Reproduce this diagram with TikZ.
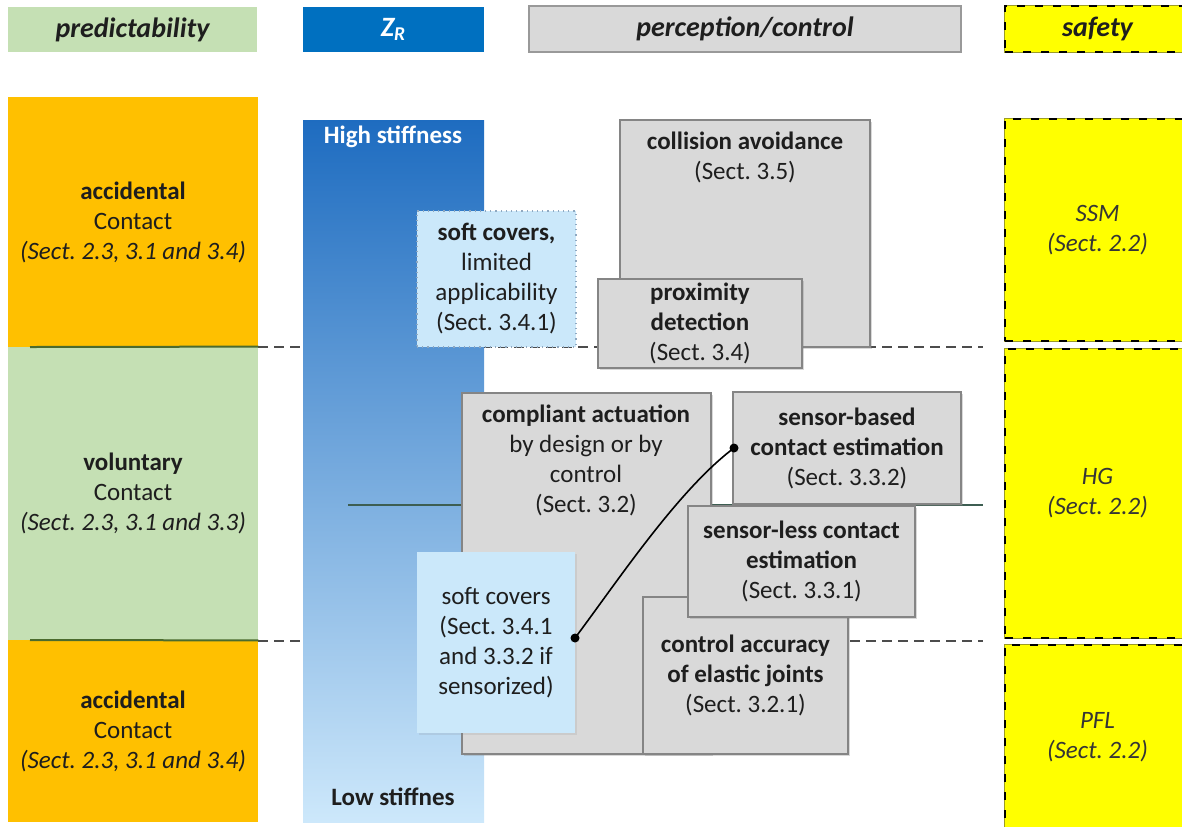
\documentclass[tikz,border=0pt]{standalone}
\usepackage{fontspec}
\setmainfont{Carlito}
\usetikzlibrary{positioning,fit,shadows}
\frenchspacing

\definecolor{predgreen}{HTML}{C5E0B4}
\definecolor{accorange}{HTML}{FFC000}
\definecolor{zrblue}{HTML}{0070C0}
\definecolor{zrtop}{HTML}{1E6CC0}
\definecolor{zrmid}{HTML}{6FA2DB}
\definecolor{zrbot}{HTML}{CDE8FB}
\definecolor{boxgray}{HTML}{D9D9D9}
\definecolor{boxline}{HTML}{858585}
\definecolor{coverblue}{HTML}{CBE8FA}
\definecolor{coverline}{HTML}{8FA8C0}
\definecolor{safeyellow}{HTML}{FFFF00}
\definecolor{safeolive}{HTML}{9C9C24}
\definecolor{inkgray}{HTML}{1E1E1E}
\definecolor{sepgreen}{HTML}{4B6B2E}
\definecolor{midline}{HTML}{3D5E52}

\newcommand{\bodyfont}{\fontsize{12.5}{15}\selectfont}
\newcommand{\headfont}{\fontsize{14}{16}\selectfont}

\begin{document}
\begin{tikzpicture}[
  x=0.5pt, y=-0.5pt,
  every node/.style={font=\bodyfont, text=inkgray},
  head/.style={inner sep=0pt, font=\headfont\bfseries\itshape},
  band/.style={inner sep=0pt},
  gbox/.style={draw=boxline, fill=boxgray, line width=0.7pt, inner sep=0pt,
               drop shadow={shadow xshift=1.2pt, shadow yshift=-1.2pt,
               opacity=0.3}},
  cover/.style={fill=coverblue, inner sep=0pt},
  safe/.style={fill=safeyellow, draw=black, line width=1.1pt,
               dash pattern=on 4pt off 5pt,
               preaction={draw=safeolive, line width=1.1pt, solid},
               inner sep=0pt},
  txt/.style={inner sep=0pt, align=center},
  safetxt/.style={txt, font=\bodyfont\itshape, text=inkgray!90},
  divide/.style={line width=1pt, black!70, dash pattern=on 5pt off 3pt},
  dot/.style={circle, fill=black, inner sep=0pt, minimum size=4.5pt},
]
\useasboundingbox (0,0) rectangle (1182,826);

% column headers
\node[band, fill=predgreen, fit={(8,7) (257,52)}] (h-pred) {};
\node[band, fill=zrblue, fit={(303,7) (484,52)}] (h-zr) {};
\node[band, fill=boxgray, draw=black!40, line width=0.6pt, fit={(529,6) (961,52)}] (h-pc) {};
\node[safe, fit={(1005,6) (1190,52)}] (h-safe) {};
\node[head] at (h-pred.center) {predictability};
\node[head, text=white] at (h-zr.center) {Z\textsubscript{R}};
\node[head] at (h-pc.center) {perception/control};
\node[head] at (h-safe.center) {safety};

% dashed dividers (behind everything)
\draw[divide] (258,347) -- (983,347);
\draw[divide] (258,641) -- (983,641);

% predictability column
\node[band, fill=accorange, fit={(8,97) (258,347)}] (acc-up) {};
\node[band, fill=predgreen, fit={(8,347) (258,640)}] (vol) {};
\node[band, fill=accorange, fit={(8,640) (258,822)}] (acc-lo) {};
\node[txt] at (acc-up.center) {\textbf{accidental}\\Contact\\\textit{(Sect. 2.3, 3.1 and 3.4)}};
\node[txt] at (vol.center) {\textbf{voluntary}\\Contact\\\textit{(Sect. 2.3, 3.1 and 3.3)}};
\node[txt] at (acc-lo.center) {\textbf{accidental}\\Contact\\\textit{(Sect. 2.3, 3.1 and 3.4)}};
\draw[sepgreen, line width=1pt] (30,347) -- (vol.north east);
\draw[sepgreen, line width=1pt] (30,640) -- (vol.south east);

% Z_R stiffness bar
\node[inner sep=0pt, top color=zrtop, middle color=zrmid, bottom color=zrbot,
      fit={(303,120) (484,822)}] (zr) {};
\node[txt, text=white, font=\bodyfont\bfseries] (zr-hi) at (393,137) {High stiffness};
\node[txt, font=\bodyfont\bfseries] (zr-lo) at (393,797) {Low stiffnes};

\draw[midline, line width=0.9pt] (348,505) -- (983,505);

% perception/control boxes
\node[gbox, fit={(620,120) (870,347)}] (coll) {};
\node[txt] at (745,157) {\textbf{collision avoidance}\\(Sect. 3.5)};
\node[gbox, fit={(598,279) (802,368)}] (prox) {};
\node[txt] at (prox.center) {\textbf{proximity}\\\textbf{detection}\\(Sect. 3.4)};
\node[cover, draw=coverline, dotted, line width=0.6pt, fit={(417,211) (576,347)}] (cov-up) {};
\node[txt] at (cov-up.center) {\textbf{soft covers,}\\limited\\applicability\\(Sect. 3.4.1)};

\node[gbox, fit={(462,393) (711,754)}] (comp) {};
\node[txt] at (586,460) {\textbf{compliant actuation}\\by design or by\\control\\(Sect. 3.2)};
\node[cover, drop shadow={shadow xshift=1pt, shadow yshift=-1pt, opacity=0.15},
      fit={(417,552) (575,733)}] (cov-lo) {};
\node[txt] at (cov-lo.center) {soft covers\\(Sect. 3.4.1\\and 3.3.2 if\\sensorized)};
\node[gbox, fit={(643,597) (848,754)}] (acc-ctl) {};
\node[txt] at (acc-ctl.center) {\textbf{control accuracy}\\\textbf{of elastic joints}\\(Sect. 3.2.1)};
\node[gbox, fit={(688,506) (915,617)}] (sless) {};
\node[txt] at (sless.center) {\textbf{sensor-less contact}\\\textbf{estimation}\\(Sect. 3.3.1)};
\node[gbox, fit={(733,392) (961,504)}] (sbased) {};
\node[txt] at (sbased.center) {\textbf{sensor-based}\\\textbf{contact estimation}\\(Sect. 3.3.2)};

% link between sensorized covers and sensor-based estimation
\node[dot] (d-lo) at (575,638) {};
\node[dot] (d-hi) at (734,448) {};
\draw[line width=0.8pt] (d-lo.center) .. controls (617,582) and (678,490) .. (d-hi.center);

% safety column
\node[safe, fit={(1005,119) (1190,341)}] (ssm) {};
\node[safe, fit={(1005,349) (1190,638)}] (hg) {};
\node[safe, fit={(1005,645) (1190,830)}] (pfl) {};
\node[safetxt] at (ssm.center) {SSM\\(Sect. 2.2)};
\node[safetxt] at (hg.center) {HG\\(Sect. 2.2)};
\node[safetxt] at (pfl.center) {PFL\\(Sect. 2.2)};

\end{tikzpicture}
\end{document}
